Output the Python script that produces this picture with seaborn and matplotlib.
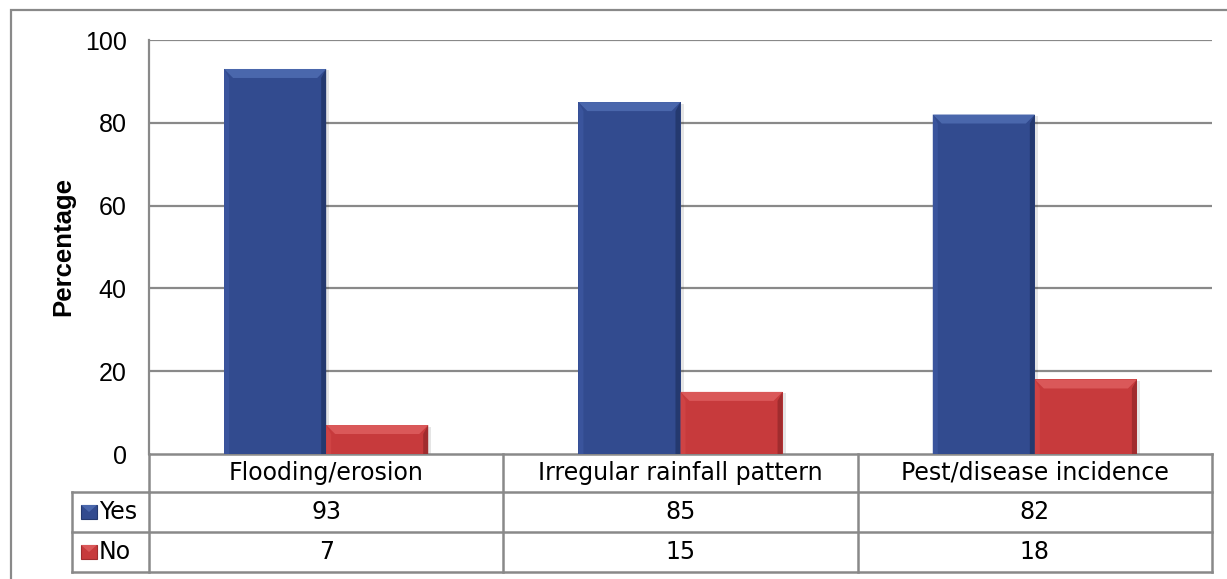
import matplotlib
matplotlib.use("Agg")
import matplotlib.pyplot as plt
import matplotlib.transforms as mtransforms
from matplotlib.patches import Rectangle, Polygon
import seaborn as sns
import pandas as pd

categories = ["Flooding/erosion", "Irregular rainfall pattern", "Pest/disease incidence"]
series_names = ["Yes", "No"]
yes_values = [93, 85, 82]
no_values = [7, 15, 18]
y_ticks = [0, 20, 40, 60, 80, 100]
y_label = "Percentage"

colors = {"Yes": "#324B8F", "No": "#C73A3C"}
light = {"Yes": "#4A67AC", "No": "#DA5859"}
side_light = {"Yes": "#3A549C", "No": "#CF4344"}
dark = {"Yes": "#24396F", "No": "#A02C2E"}

df = pd.DataFrame({
    "category": categories * 2,
    "series": ["Yes"] * 3 + ["No"] * 3,
    "value": yes_values + no_values,
})

W, H = 1227, 579
fig = plt.figure(figsize=(W / 100, H / 100), dpi=100)
fig.patch.set_facecolor("white")

sns.set_style("white")
plt.rcParams["font.family"] = ["DejaVu Sans"]

# plot area in pixel units
L, R, T, B = 149, 1212, 40, 454
ax = fig.add_axes([L / W, (H - B) / H, (R - L) / W, (B - T) / H])

sns.barplot(data=df, x="category", y="value", hue="series", hue_order=series_names,
            palette=colors, width=0.576, gap=0, saturation=1, legend=False,
            edgecolor="none", linewidth=0, ax=ax, zorder=3)

ax.set_xlim(-0.5, len(categories) - 0.5)
ax.set_ylim(0, 100)
ax.set_yticks(y_ticks)
ax.set_yticklabels([str(t) for t in y_ticks], fontsize=18, family="Liberation Sans", color="black")
ax.tick_params(axis="y", length=0, pad=16)
ax.set_xticks([])
ax.set_xlabel("")
ax.set_ylabel(y_label, fontsize=18.5, fontweight="bold", family="Liberation Sans",
              color="black", labelpad=7)

grid_c = "#898989"
for t in y_ticks[1:]:
    ax.axhline(t, color=grid_c, lw=1.6, zorder=1)
for s in ["top", "right", "bottom"]:
    ax.spines[s].set_visible(False)
ax.spines["left"].set_color(grid_c)
ax.spines["left"].set_linewidth(1.6)

# bevelled bar faces
ax_w_px = R - L
ax_h_px = B - T
ux = (len(categories)) / ax_w_px
uy = 100 / ax_h_px
bev = 9
for patch, name in zip(ax.patches, [s for s in series_names for _ in categories]):
    x, y = patch.get_x(), patch.get_y()
    w, h = patch.get_width(), patch.get_height()
    dx = bev * ux
    dy = min(bev * uy, h / 3)
    sx = 5 * ux
    # soft shadow
    ax.add_patch(Rectangle((x + 1.5 * ux, y), w + 1.5 * ux, h - 1.5 * uy,
                           facecolor="#000000", alpha=0.10, lw=0, zorder=2))
    ax.add_patch(Polygon([(x, y + h), (x + w, y + h), (x + w - dx, y + h - dy), (x + dx, y + h - dy)],
                         facecolor=light[name], lw=0, zorder=4))
    ax.add_patch(Polygon([(x, y), (x, y + h), (x + sx, y + h - dy), (x + sx, y)],
                         facecolor=side_light[name], lw=0, zorder=4))
    ax.add_patch(Polygon([(x + w, y), (x + w, y + h), (x + w - sx, y + h - dy), (x + w - sx, y)],
                         facecolor=dark[name], lw=0, zorder=4))

# data table below the axis
trans = mtransforms.blended_transform_factory(ax.transData, ax.transAxes)
hdr = 38 / ax_h_px
row = 40 / ax_h_px
lab_w = 77 / ax_w_px
tbl_font = dict(family="DejaVu Sans", fontsize=17, color="black")
line_kw = dict(color=grid_c, lw=1.8, clip_on=False, solid_capstyle="projecting")

y_hdr_bot = -hdr
y_yes_bot = -hdr - row
y_no_bot = -hdr - 2 * row
n = len(categories)

# horizontal rules
ax.plot([-0.5, n - 0.5], [0, 0], transform=trans, **line_kw)
ax.plot([0, 1], [y_hdr_bot, y_hdr_bot], transform=ax.transAxes, **line_kw)
ax.plot([-lab_w, 0], [y_hdr_bot, y_hdr_bot], transform=ax.transAxes, **line_kw)
ax.plot([-lab_w, 1], [y_yes_bot, y_yes_bot], transform=ax.transAxes, **line_kw)
ax.plot([-lab_w, 1], [y_no_bot, y_no_bot], transform=ax.transAxes, **line_kw)
# vertical rules
for i in range(n + 1):
    ax.plot([i - 0.5, i - 0.5], [0, y_no_bot], transform=trans, **line_kw)
ax.plot([-lab_w, -lab_w], [y_hdr_bot, y_no_bot], transform=ax.transAxes, **line_kw)

for i, cat in enumerate(categories):
    ax.text(i, -hdr / 2, cat, transform=trans, ha="center", va="center", **tbl_font)
    ax.text(i, y_hdr_bot - row / 2, str(yes_values[i]), transform=trans,
            ha="center", va="center", **tbl_font)
    ax.text(i, y_yes_bot - row / 2, str(no_values[i]), transform=trans,
            ha="center", va="center", **tbl_font)

# row labels with legend keys
key_w = 16 / ax_w_px
key_h = 14 / ax_h_px
for k, name in enumerate(series_names):
    yc = y_hdr_bot - row * (k + 0.5)
    kx = -lab_w + 9 / ax_w_px
    ky = yc - key_h / 2
    ax.add_patch(Rectangle((kx, ky), key_w, key_h, transform=ax.transAxes,
                           facecolor=colors[name], edgecolor=dark[name], lw=0.8, clip_on=False))
    ax.add_patch(Polygon([(kx, ky + key_h), (kx + key_w, ky + key_h), (kx + key_w / 2, ky + key_h / 2)],
                         transform=ax.transAxes, facecolor=light[name], lw=0, clip_on=False))
    ax.text(kx + key_w + 2 / ax_w_px, yc, name, transform=ax.transAxes,
            ha="left", va="center", **tbl_font)

# outer chart frame
fig.add_artist(Rectangle((11 / W, -0.05), 1.1, (H - 10) / H + 0.05, transform=fig.transFigure,
                         facecolor="none", edgecolor=grid_c, lw=1.6))

fig.savefig("out.png", dpi=100, facecolor="white")
